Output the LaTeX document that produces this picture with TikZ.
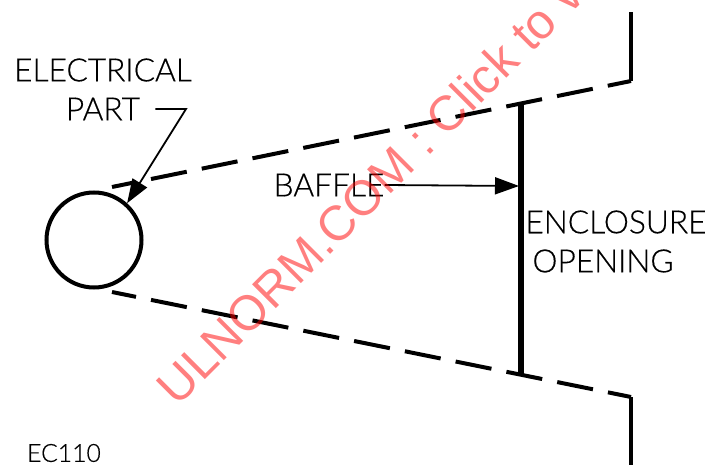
\documentclass[tikz,border=0pt]{standalone}
\usepackage{fontspec}
\setmainfont{Liberation Sans}
\newfontfamily\cadfont[FakeStretch=0.99,FakeBold=0.4]{Lato Light}
\usetikzlibrary{positioning}
\usetikzlibrary{arrows.meta}
\tikzset{
   label/.style={inner sep=0pt, font=\cadfont\fontsize{32}{32}\selectfont},
   baffleline/.style={line width=4pt, dash pattern=on 36.5pt off 15.3pt, dash phase=12pt},
   leader/.style={line width=1.8pt, -{Triangle[length=24pt,width=17pt]}},
}
\begin{document}
\begin{tikzpicture}[x=1pt,y=-1pt]
    \useasboundingbox (0,0) rectangle (707,465);
    \clip (0,0) rectangle (707,465);
    \node[draw, circle, line width=4pt, minimum size=95pt, inner sep=0pt] (part) at (94,240) {};
    \coordinate (u1) at (112,187);
    \coordinate (u2) at (631,81);
    \coordinate (u3) at (631,12);
    \coordinate (l1) at (112,292);
    \coordinate (l2) at (631,397);
    \coordinate (l3) at (631,465);
    \coordinate (btop) at (521,103);
    \coordinate (bbot) at (521,376);
    \coordinate (bmid) at (519,186);
    \draw[baffleline] (u1) -- (u2);
    \draw[baffleline] (l1) -- (l2);
    \draw[line width=4pt] (u2) -- (u3);
    \draw[line width=4pt] (l2) -- (l3);
    \draw[line width=6pt] (btop) -- (bbot);
    \node[label] (elec) at (103,70) {ELECTRICAL};
    \node[label] (partlabel) at (103,109) {PART};
    \node[label] (baffle) at (329,185) {BAFFLE};
    \node[label] (encl) at (616,222) {ENCLOSURE};
    \node[label] (open) at (603,261) {OPENING};
    \node[label, font=\cadfont\fontsize{25}{26}\selectfont] (ec) at (64,453) {EC110};
    \coordinate (bend) at (186,109);
    \draw[leader] (partlabel.east)++(15,0) -- (bend) -- (part.48);
    \draw[leader] (baffle.east) -- (bmid);
    \node[anchor=base west, inner sep=0pt, rotate=45, text=red, opacity=.5, font=\fontsize{49}{49}\selectfont] (mark) at (177,408) {ULNORM.COM : Click to vi};
\end{tikzpicture}
\end{document}
